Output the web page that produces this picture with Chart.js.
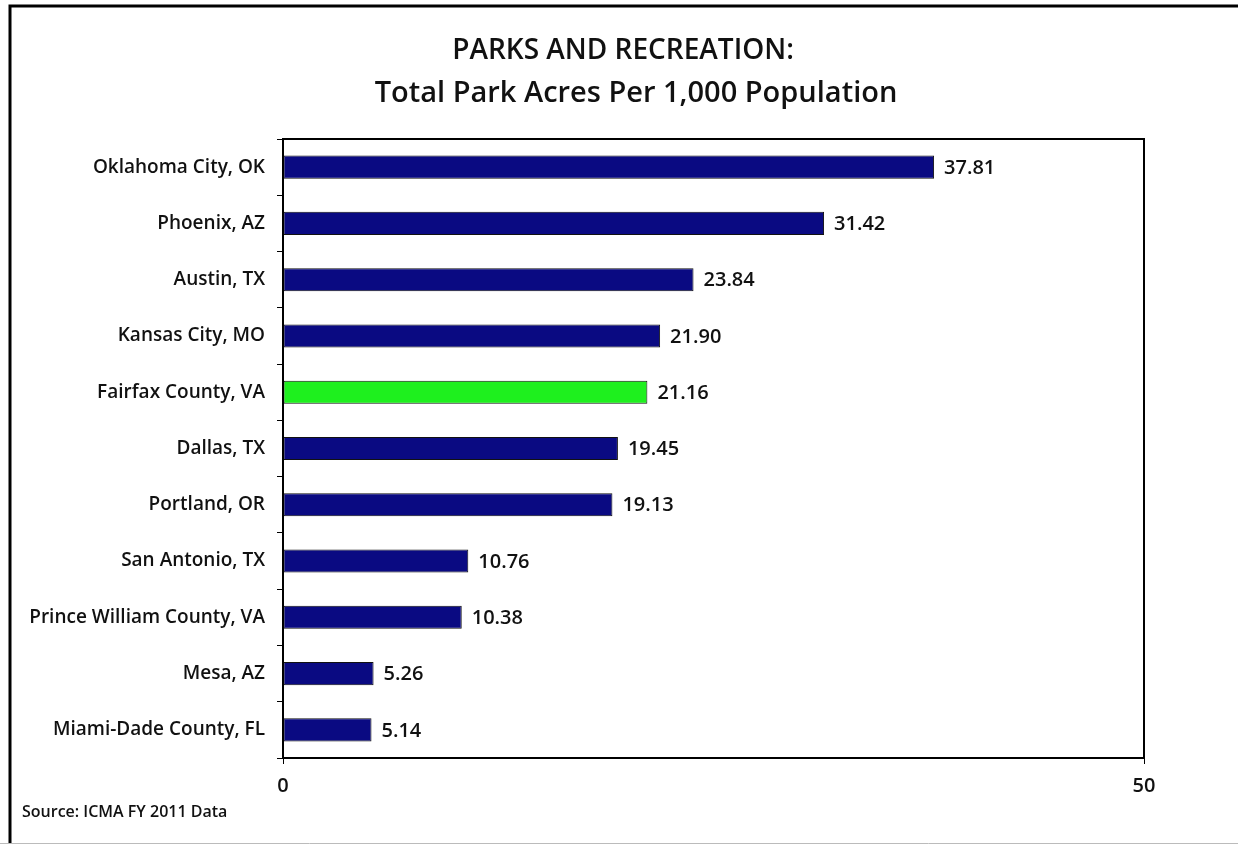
<!DOCTYPE html>
<html>
<head>
<meta charset="utf-8">
<script src="https://cdn.jsdelivr.net/npm/chart.js@4"></script>
<style>
  html, body { margin: 0; padding: 0; background: #fff; }
  #wrap { width: 1238px; height: 844px; }
</style>
</head>
<body>
<div id="wrap"><canvas id="myChart" width="1238" height="844"></canvas></div>
<script>
// donnees
const villes = [
  "Oklahoma City, OK", "Phoenix, AZ", "Austin, TX", "Kansas City, MO",
  "Fairfax County, VA", "Dallas, TX", "Portland, OR", "San Antonio, TX",
  "Prince William County, VA", "Mesa, AZ", "Miami-Dade County, FL"
]
const acres = [37.81, 31.42, 23.84, 21.90, 21.16, 19.45, 19.13, 10.76, 10.38, 5.26, 5.14]
const ticksX = [0, 50]
const villeMiseEnAvant = "Fairfax County, VA"
const titre = ["PARKS AND RECREATION:", "Total Park Acres Per 1,000 Population"]
const source = "Source: ICMA FY 2011 Data"

const police = "'Open Sans', 'Liberation Sans', sans-serif"
const couleurs = villes.map(v => v === villeMiseEnAvant ? "#1ef01e" : "#0a0a82")

// cadre, titre, source et valeurs
const decor = {
  id: "decor",
  beforeDraw(chart) {
    const c = chart.ctx
    c.save()
    c.fillStyle = "#fff"
    c.fillRect(0, 0, chart.width, chart.height)
    c.strokeStyle = "#000"
    c.lineWidth = 3
    c.strokeRect(10, 6, 1240, 850)
    c.strokeStyle = "#bbb"
    c.lineWidth = 1
    c.beginPath(); c.moveTo(0, 843.5); c.lineTo(1238, 843.5); c.stroke()
    c.fillStyle = "#111"
    c.textAlign = "center"
    c.textBaseline = "middle"
    c.font = "600 28px " + police
    c.fillText(titre[0], 623, 51)
    c.font = "600 29px " + police
    c.fillText(titre[1], 636, 94)
    c.textAlign = "left"
    c.font = "600 16px " + police
    c.fillText(source, 22, 812)
    c.restore()
  },
  afterDatasetsDraw(chart) {
    const c = chart.ctx
    const a = chart.chartArea
    c.save()
    c.strokeStyle = "#000"
    c.lineWidth = 2
    c.strokeRect(a.left, a.top, a.right - a.left, a.bottom - a.top)
    c.fillStyle = "#111"
    c.font = "600 20px " + police
    c.textBaseline = "middle"
    chart.getDatasetMeta(0).data.forEach((bar, i) => {
      c.fillText(acres[i].toFixed(2), bar.x + 10, bar.y + 1)
    })
    c.restore()
  }
}

const ctx = document.getElementById("myChart")
new Chart(ctx, {
  type: "bar",
  data: {
    labels: villes,
    datasets: [{
      data: acres,
      backgroundColor: couleurs,
      borderColor: "#111",
      borderWidth: 1,
      borderSkipped: false,
      categoryPercentage: 1,
      barPercentage: 0.41
    }]
  },
  options: {
    indexAxis: "y",
    responsive: false,
    animation: false,
    layout: { padding: { top: 139, right: 94, left: 0, bottom: 0 } },
    plugins: { legend: { display: false }, tooltip: { enabled: false } },
    scales: {
      x: {
        min: 0, max: 50,
        afterBuildTicks: (s) => { s.ticks = ticksX.map(v => ({ value: v })) },
        afterFit: (s) => { s.height = 86 },
        grid: { drawOnChartArea: false, drawTicks: true, tickLength: 6, color: "#000" },
        border: { display: true, color: "#000", width: 2 },
        ticks: { color: "#111", font: { family: police, size: 20, weight: "600" }, padding: 10, maxRotation: 0 }
      },
      y: {
        afterFit: (s) => { s.width = 283 },
        grid: { drawOnChartArea: false, drawTicks: true, tickLength: 6, color: "#000", offset: true },
        border: { display: true, color: "#000", width: 2 },
        ticks: { color: "#111", font: { family: police, size: 19, weight: "600" }, padding: 12 }
      }
    }
  },
  plugins: [decor]
})
</script>
</body>
</html>
